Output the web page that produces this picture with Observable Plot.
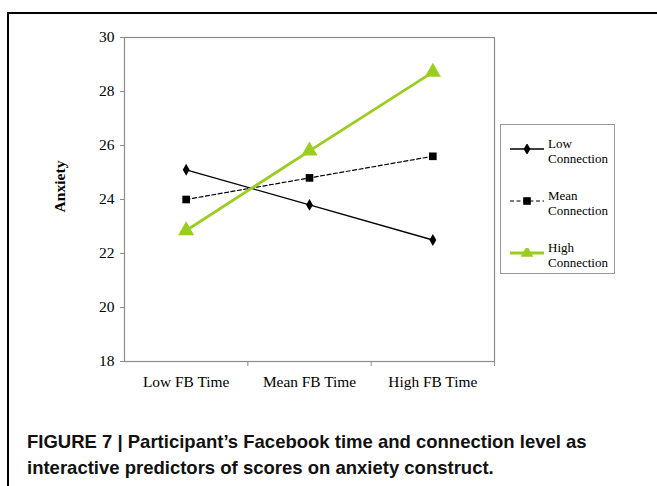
<!DOCTYPE html>
<html><head><meta charset="utf-8">
<script src="https://cdn.jsdelivr.net/npm/d3@7"></script>
<script src="https://cdn.jsdelivr.net/npm/@observablehq/plot@0.6"></script>
<style>
html,body{margin:0;padding:0;background:#fff;width:657px;height:486px;overflow:hidden;position:relative;font-family:"Liberation Serif",serif;}
#border{position:absolute;left:7px;top:12px;width:700px;height:520px;border-left:2px solid #000;border-top:2px solid #000;}
#chart{position:absolute;left:0;top:0;}
#legend{position:absolute;left:500px;top:124px;width:115px;height:150px;border:1px solid #999;box-sizing:border-box;background:#fff;}
.item{position:absolute;left:0;width:115px;}
.item svg{position:absolute;left:9px;top:4px;}
.item .lbl{position:absolute;left:47px;top:-4px;font-size:13px;line-height:15px;color:#000;font-family:"Liberation Serif",serif;}
#caption{position:absolute;left:27px;top:429px;font-family:"Liberation Sans",Arial,sans-serif;font-weight:bold;font-size:18.5px;line-height:26px;color:#111;white-space:nowrap;}
</style></head>
<body>
<div id="border"></div>
<div id="chart"></div>
<div id="legend"></div>
<div id="caption">FIGURE 7 | Participant’s Facebook time and connection level as<br>interactive predictors of scores on anxiety construct.</div>
<script>
const categories = ["Low FB Time", "Mean FB Time", "High FB Time"];
const seriesNames = ["Low Connection", "Mean Connection", "High Connection"];
const lowConnection = [25.1, 23.8, 22.5];
const meanConnection = [24.0, 24.8, 25.6];
const highConnection = [22.85, 25.8, 28.72];
const yTicks = [18, 20, 22, 24, 26, 28, 30];
const yTitle = "Anxiety";

const green = "#9acd1e";
const toRows = (vals, s) => vals.map((v, i) => ({series: s, cat: categories[i], xi: i + 0.5, value: v}));
const lowRows = toRows(lowConnection, seriesNames[0]);
const meanRows = toRows(meanConnection, seriesNames[1]);
const highRows = toRows(highConnection, seriesNames[2]);

const chart = Plot.plot({
  width: 657,
  height: 400,
  marginLeft: 124,
  marginRight: 163,
  marginTop: 37,
  marginBottom: 39,
  style: {fontFamily: "Liberation Serif, serif", fontSize: "15.4px", color: "#000", background: "transparent"},
  x: {type: "linear", domain: [0, categories.length]},
  y: {domain: [18, 30]},
  marks: [
    Plot.frame({stroke: "#8c8c8c", strokeWidth: 1.2}),
    Plot.axisY({ticks: yTicks, tickSize: 4, tickPadding: 6, stroke: "#8c8c8c", label: null, fontSize: 15.5}),
    Plot.axisX({ticks: categories.map((c, i) => i + 0.5), tickFormat: (d) => categories[Math.floor(d)], tickSize: 0, tickPadding: 15, label: null, fontSize: 15.4}),
    Plot.axisX({ticks: d3.range(1, categories.length + 1), tickFormat: () => "", tickSize: 5, stroke: "#8c8c8c", label: null}),
    Plot.text([yTitle], {frameAnchor: "left", textAnchor: "middle", rotate: -90, dx: -65, dy: -13, fontWeight: "bold", fontSize: 15.6}),
    Plot.line(lowRows, {x: "xi", y: "value", stroke: "#000", strokeWidth: 1.3}),
    Plot.line(meanRows, {x: "xi", y: "value", stroke: "#000", strokeWidth: 1.2, strokeDasharray: "4,2.5"}),
    Plot.line(highRows, {x: "xi", y: "value", stroke: green, strokeWidth: 2.8}),
    Plot.dot(lowRows, {x: "xi", y: "value", symbol: "diamond", r: 3.6, fill: "#000", stroke: "none"}),
    Plot.dot(meanRows, {x: "xi", y: "value", symbol: "square", r: 4.3, fill: "#000", stroke: "none"}),
    Plot.dot(highRows, {x: "xi", y: "value", symbol: "triangle", r: 6, fill: green, stroke: "none"})
  ]
});
document.getElementById("chart").appendChild(chart);

// legend
const legendStyles = [
  {dash: null, color: "#000", width: 1.3, sym: d3.symbolDiamond, size: 40},
  {dash: "4,2.5", color: "#000", width: 1.2, sym: d3.symbolSquare, size: 58},
  {dash: null, color: green, width: 2.8, sym: d3.symbolTriangle, size: 70}
];
const legend = document.getElementById("legend");
const tops = [15, 67, 119];
seriesNames.forEach((name, i) => {
  const st = legendStyles[i];
  const div = document.createElement("div");
  div.className = "item";
  div.style.top = tops[i] + "px";
  const parts = name.split(" ");
  div.innerHTML = `<svg width="36" height="10" viewBox="0 0 36 10">
    <line x1="0" y1="5" x2="34" y2="5" stroke="${st.color}" stroke-width="${st.width}" ${st.dash ? `stroke-dasharray="${st.dash}"` : ""}/>
    <path transform="translate(17,5)" d="${d3.symbol(st.sym, st.size)()}" fill="${st.color}"/>
  </svg><div class="lbl">${parts[0]}<br>${parts[1]}</div>`;
  legend.appendChild(div);
});
</script>
</body></html>
